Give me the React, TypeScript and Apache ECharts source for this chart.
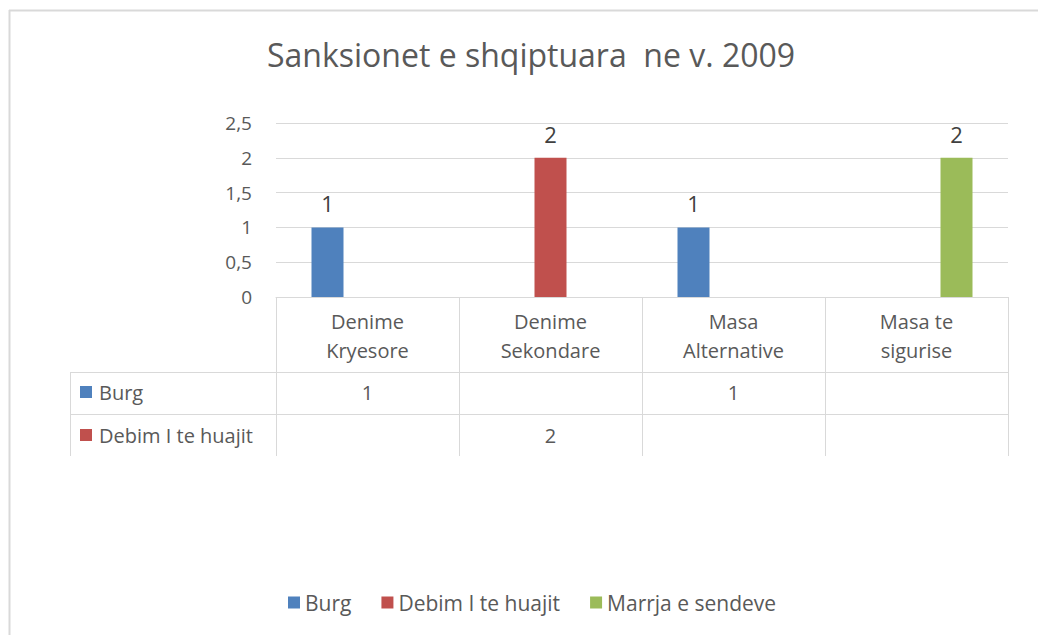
import React, { useEffect, useRef } from "react";
import * as echarts from "echarts";

const titleText = "Sanksionet e shqiptuara  ne v. 2009";
const categories = ["Denime\nKryesore", "Denime\nSekondare", "Masa\nAlternative", "Masa te\nsigurise"];
const seriesNames = ["Burg", "Debim I te huajit", "Marrja e sendeve"];
const burg = [1, null, 1, null];
const debim = [null, 2, null, null];
const marrja = [null, null, null, 2];
const yMin = 0;
const yMax = 2.5;
const yStep = 0.5;

const colors = ["#4F81BD", "#C0504D", "#9BBB59"];
const FONT = "Open Sans";
const TEXT = "#595959";
const LINE = "#D9D9D9";

export default function App() {
  const ref = useRef<HTMLDivElement>(null);
  useEffect(() => {
    if (!ref.current) return;
    const chart = echarts.init(ref.current, undefined, { renderer: "svg" });
    const gridLeft = 276;
    const gridRight = 30;
    const gridTop = 123;
    const gridBottom = 338;
    const W = 1038;
    const H = 635;
    const axisY = H - gridBottom;
    const rightX = W - gridRight;
    const seriesData = [burg, debim, marrja];

    chart.setOption({
      animation: false,
      textStyle: { fontFamily: FONT },
      title: {
        text: titleText,
        left: 262,
        top: 33,
        textStyle: { fontFamily: FONT, fontSize: 32, fontWeight: "normal", color: TEXT },
      },
      legend: {
        data: seriesNames,
        left: 283,
        top: 587,
        itemWidth: 12,
        itemHeight: 12,
        itemGap: 30,
        icon: "rect",
        textStyle: { fontFamily: FONT, fontSize: 21, color: TEXT },
      },
      grid: { left: gridLeft, right: gridRight, top: gridTop, bottom: gridBottom, containLabel: false },
      xAxis: {
        type: "category",
        data: categories,
        axisLine: { show: true, lineStyle: { color: LINE, width: 1 } },
        axisTick: { show: true, length: 159, lineStyle: { color: LINE, width: 1 }, interval: 0 },
        axisLabel: { interval: 0, margin: 10, fontFamily: FONT, fontSize: 20, lineHeight: 29, color: TEXT },
      },
      yAxis: {
        type: "value",
        min: yMin,
        max: yMax,
        interval: yStep,
        axisLine: { show: false },
        axisTick: { show: false },
        splitLine: { lineStyle: { color: LINE, width: 1 } },
        axisLabel: {
          margin: 24,
          fontFamily: FONT,
          fontSize: 19,
          color: TEXT,
          formatter: (v: number) => String(v).replace(".", ","),
        },
      },
      series: seriesNames.map((name, i) => ({
        name,
        type: "bar",
        data: seriesData[i],
        barWidth: 32,
        barGap: "25%",
        itemStyle: { color: colors[i] },
        label: {
          show: true,
          position: "top",
          distance: 13,
          fontFamily: FONT,
          fontSize: 22,
          color: "#404040",
        },
      })),
    });

    // data table below the plot
    const rowCenters = [392, 435];
    const rowLines = [372, 414];
    const tableLeft = 70;
    const tableBottom = axisY + 159;
    const graphics: any[] = [
      { type: "line", shape: { x1: 9.5, y1: 10, x2: 9.5, y2: H }, style: { stroke: LINE, lineWidth: 2 } },
      { type: "line", shape: { x1: 9, y1: 10.5, x2: W, y2: 10.5 }, style: { stroke: LINE, lineWidth: 2 } },
      { type: "line", shape: { x1: tableLeft + 0.5, y1: rowLines[0], x2: tableLeft + 0.5, y2: tableBottom }, style: { stroke: LINE, lineWidth: 1 } },
    ];
    rowLines.forEach((y) => {
      graphics.push({ type: "line", shape: { x1: tableLeft, y1: y + 0.5, x2: rightX, y2: y + 0.5 }, style: { stroke: LINE, lineWidth: 1 } });
    });
    const tableSeries = [0, 1];
    tableSeries.forEach((si, r) => {
      const cy = rowCenters[r];
      graphics.push({ type: "rect", shape: { x: 80, y: cy - 6, width: 12, height: 12 }, style: { fill: colors[si] } });
      graphics.push({
        type: "text",
        x: 99,
        y: cy,
        style: { text: seriesNames[si], fontFamily: FONT, fontSize: 20, fill: TEXT, verticalAlign: "middle", textAlign: "left" },
      });
      seriesData[si].forEach((v, ci) => {
        if (v === null || v === undefined) return;
        const px = chart.convertToPixel({ xAxisIndex: 0 }, ci) as number;
        graphics.push({
          type: "text",
          x: px,
          y: cy,
          style: { text: String(v), fontFamily: FONT, fontSize: 20, fill: TEXT, verticalAlign: "middle", textAlign: "center" },
        });
      });
    });
    chart.setOption({ graphic: graphics });

    return () => chart.dispose();
  }, []);
  return <div ref={ref} style={{ position: "absolute", left: 0, top: 0, width: 1038, height: 635, background: "#fff" }} />;
}
